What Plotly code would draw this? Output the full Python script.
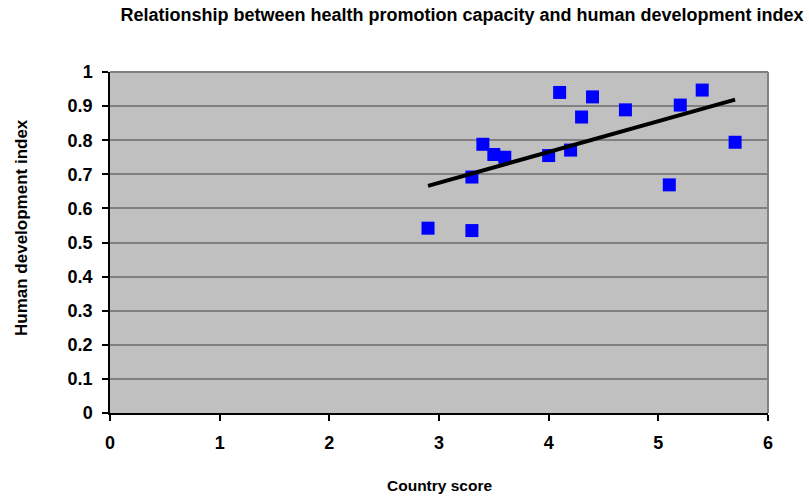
import numpy as np
import plotly.graph_objects as go

# Country scores and human development index values
country_score = [2.9, 3.3, 3.3, 3.4, 3.5, 3.6, 4.0, 4.1, 4.2, 4.3, 4.4, 4.7, 5.1, 5.2, 5.4, 5.7]
hdi = [0.542, 0.692, 0.535, 0.788, 0.758, 0.750, 0.755, 0.940, 0.771, 0.868, 0.927, 0.889, 0.669, 0.903, 0.947, 0.794]

x_ticks = [0, 1, 2, 3, 4, 5, 6]
y_ticks = [0, 0.1, 0.2, 0.3, 0.4, 0.5, 0.6, 0.7, 0.8, 0.9, 1]
y_tick_text = ["0", "0.1", "0.2", "0.3", "0.4", "0.5", "0.6", "0.7", "0.8", "0.9", "1"]

# Linear trend line over the range of the data
slope, intercept = np.polyfit(country_score, hdi, 1)
trend_x = [min(country_score), max(country_score)]
trend_y = [slope * v + intercept for v in trend_x]

font = "Liberation Sans"
tick_font = dict(size=18, family=font, weight="bold", color="black")

fig = go.Figure()
fig.add_trace(go.Scatter(
    x=country_score, y=hdi, mode="markers",
    marker=dict(symbol="square", size=13, color="#0000FF",
                line=dict(width=0)),
    showlegend=False, hoverinfo="x+y",
))
fig.add_trace(go.Scatter(
    x=trend_x, y=trend_y, mode="lines",
    line=dict(color="black", width=4),
    showlegend=False, hoverinfo="skip",
))

fig.update_layout(
    width=809, height=497,
    margin=dict(l=110, r=41, t=72, b=84),
    paper_bgcolor="white",
    plot_bgcolor="#C0C0C0",
    font=dict(family=font, size=18, color="black"),
    title=dict(
        text="<b>Relationship between health promotion capacity and human development index</b>",
        x=462 / 809, xanchor="center", y=1 - 15 / 497, yanchor="middle",
        font=dict(size=18, family=font, color="black"),
    ),
    xaxis=dict(
        range=[0, 6], tickmode="array", tickvals=x_ticks, ticktext=[str(v) for v in x_ticks],
        showgrid=False, zeroline=False,
        showline=True, linecolor="black", linewidth=1.5,
        ticks="outside", ticklen=6, tickcolor="black", tickwidth=1.5,
        tickfont=tick_font, ticklabelstandoff=7,
    ),
    yaxis=dict(
        range=[0, 1], tickmode="array", tickvals=y_ticks, ticktext=y_tick_text,
        showgrid=True, gridcolor="#808080", gridwidth=1.5,
        zeroline=False,
        showline=True, linecolor="black", linewidth=1.5,
        ticks="outside", ticklen=6, tickcolor="black", tickwidth=1.5,
        tickfont=tick_font, ticklabelstandoff=6,
    ),
    annotations=[
        dict(text="<b>Country score</b>", xref="paper", yref="paper",
             x=0.5, y=-72 / 341, xanchor="center", yanchor="middle",
             showarrow=False, font=dict(size=15.5, family=font)),
        dict(text="<b>Human development index</b>", xref="paper", yref="paper",
             x=-89 / 658, y=185 / 341, xanchor="center", yanchor="middle",
             textangle=-90, showarrow=False, font=dict(size=17, family=font)),
    ],
)

# Gray frame on the top and right of the plotting area
fig.add_shape(type="line", xref="paper", yref="paper", x0=0, x1=1, y0=1, y1=1,
              line=dict(color="#808080", width=2), layer="below")
fig.add_shape(type="line", xref="paper", yref="paper", x0=1, x1=1, y0=0, y1=1,
              line=dict(color="#808080", width=2), layer="below")

fig.write_html("out.html")
